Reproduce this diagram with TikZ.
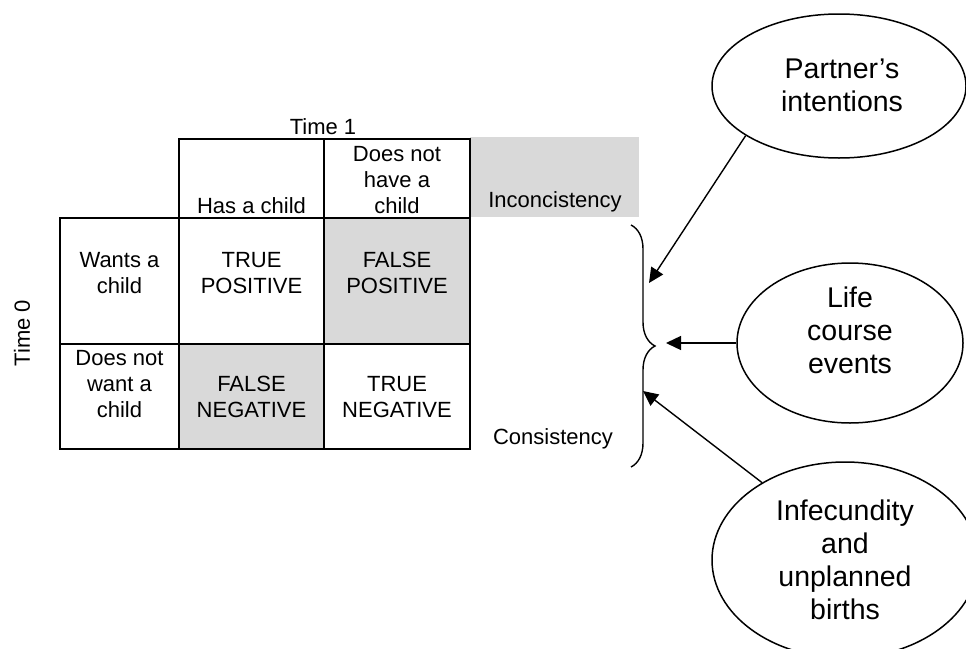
\documentclass[tikz,border=0pt]{standalone}
\usepackage{fontspec}
\setmainfont{Liberation Sans}
\usetikzlibrary{shapes.geometric,arrows.meta,decorations.pathreplacing}

\begin{document}
\begin{tikzpicture}[x=1pt,y=-1pt,
  cell/.style={anchor=north,align=center,inner sep=0pt,font=\fontsize{22}{26}\selectfont},
  grid/.style={line width=1.8pt},
  oval/.style={draw,ellipse,line width=1.5pt,inner sep=0pt},
  ovaltext/.style={anchor=north,align=center,inner sep=0pt,font=\fontsize{28.5}{33}\selectfont},
  arr/.style={-{Triangle[length=15pt,width=14pt]},line width=1.4pt}]
  \useasboundingbox (0,0) rectangle (966,648);

  % Consistency table
  \fill[gray!30] (324,218) rectangle (470,344);
  \fill[gray!30] (179,344) rectangle (324,449);
  \fill[gray!30] (470,137) rectangle (639,217);
  \draw[grid] (179,139) rectangle (470,449);
  \draw[grid] (60,218) rectangle (470,449);
  \draw[grid] (60,344) -- (470,344);
  \draw[grid] (324,139) -- (324,449);

  \node[cell] (Time1) at (323,118) {Time 1};
  \node[cell,rotate=90,anchor=center] (Time0) at (22,333) {Time 0};
  \node[cell] (Has) at (251.5,197) {Has a child};
  \node[cell] (HasNot) at (397,146) {Does not\\have a\\child};
  \node[cell] (Wants) at (119.5,252) {Wants a\\child};
  \node[cell] (WantsNot) at (119.5,350) {Does not\\want a\\child};
  \node[cell] (TP) at (251.5,252) {TRUE\\POSITIVE};
  \node[cell] (FP) at (397,252) {FALSE\\POSITIVE};
  \node[cell] (FN) at (251.5,376) {FALSE\\NEGATIVE};
  \node[cell] (TN) at (397,376) {TRUE\\NEGATIVE};
  \node[cell] (Incons) at (555,191) {Inconcistency};
  \node[cell] (Cons) at (553,428) {Consistency};

  % brace
  \coordinate (BraceTop) at (631,225);
  \coordinate (BraceBot) at (631,467);
  \draw[line width=1.4pt,decorate,decoration={brace,amplitude=24pt}] (BraceTop) -- (BraceBot);

  % influences
  \node[oval,minimum width=254pt,minimum height=144pt] (Partner) at (839,86) {};
  \node[ovaltext] (PartnerText) at (842,59) {Partner’s\\intentions};
  \node[oval,minimum width=226pt,minimum height=160pt] (Life) at (850,343) {};
  \node[ovaltext] (LifeText) at (850,287) {Life\\course\\events};
  \node[oval,minimum width=266pt,minimum height=196pt] (Infec) at (845,560) {};
  \node[ovaltext] (InfecText) at (845,500) {Infecundity\\and\\unplanned\\births};

  \coordinate (TipA) at (649,283);
  \coordinate (TipB) at (666,343);
  \coordinate (TipC) at (643,391);
  \draw[arr] (Partner.208) -- (TipA);
  \draw[arr] (Life.west) -- (TipB);
  \draw[arr] (Infec.137.5) -- (TipC);
\end{tikzpicture}
\end{document}
